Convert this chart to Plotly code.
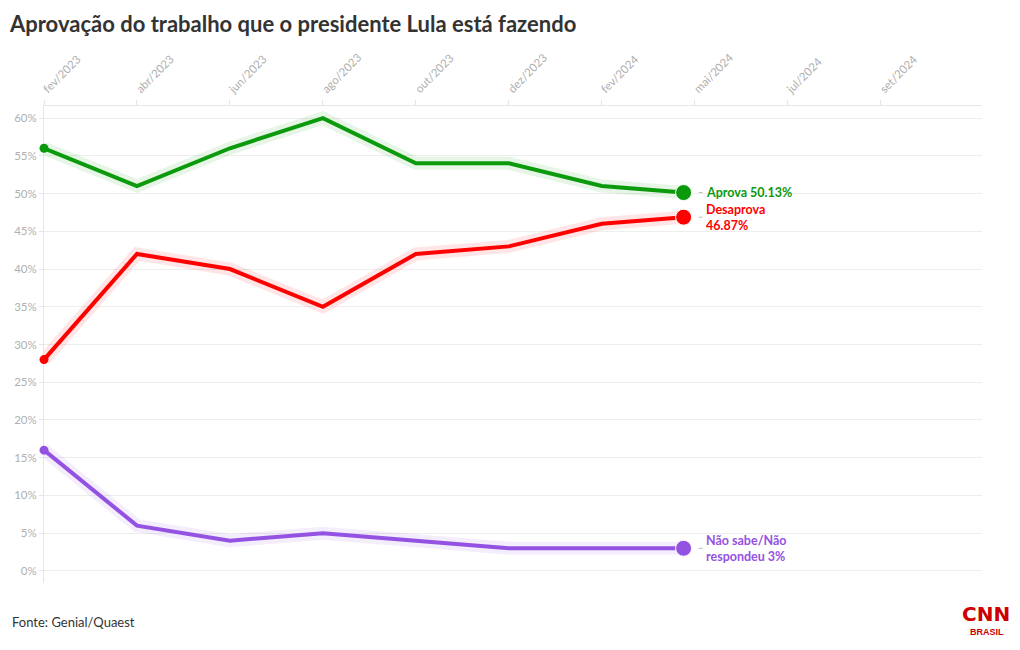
import plotly.graph_objects as go

# ---- data ----
tick_labels = ["fev/2023", "abr/2023", "jun/2023", "ago/2023", "out/2023",
               "dez/2023", "fev/2024", "mai/2024", "jul/2024", "set/2024"]
tick_pos = [0, 1, 2, 3, 4, 5, 6, 7, 8, 9]
# survey position on the (evenly spaced) time axis
survey_x = [0, 1, 2, 3, 4, 5, 6, 6.88]
aprova = [56, 51, 56, 60, 54, 54, 51, 50.13]
desaprova = [28, 42, 40, 35, 42, 43, 46, 46.87]
nao_sabe = [16, 6, 4, 5, 4, 3, 3, 3]
series_names = ["Aprova", "Desaprova", "Não sabe/Não respondeu"]
end_labels = ["Aprova 50.13%", "Desaprova<br>46.87%", "Não sabe/Não<br>respondeu 3%"]
y_ticks = [0, 5, 10, 15, 20, 25, 30, 35, 40, 45, 50, 55, 60]

colors = ["#0b9a0b", "#ff0000", "#9452e3"]
glows = ["rgba(11,154,11,0.10)", "rgba(255,0,0,0.10)", "rgba(148,82,227,0.10)"]
FONT = "Lato"

# page has an 8px body margin; figure is 1012x642
W, H = 1012, 642
L, T, R, B = 36, 98, 38, 67
PW, PH = W - L - R, H - T - B


def px(xpage):
    return (xpage - 8 - L) / PW


def py(ypage):
    return (H - B - (ypage - 8)) / PH


fig = go.Figure()
all_series = [aprova, desaprova, nao_sabe]
for vals, col, glow, name in zip(all_series, colors, glows, series_names):
    fig.add_trace(go.Scatter(x=survey_x, y=vals, mode="lines",
                             line=dict(color=glow, width=13), hoverinfo="skip",
                             showlegend=False, cliponaxis=False))
for vals, col, name in zip(all_series, colors, series_names):
    fig.add_trace(go.Scatter(x=survey_x, y=vals, mode="lines", name=name,
                             line=dict(color=col, width=4), showlegend=False,
                             cliponaxis=False))
    fig.add_trace(go.Scatter(x=[survey_x[0]], y=[vals[0]], mode="markers",
                             marker=dict(color=col, size=9), showlegend=False,
                             hoverinfo="skip", cliponaxis=False))
    fig.add_trace(go.Scatter(x=[survey_x[-1]], y=[vals[-1]], mode="markers",
                             marker=dict(color=col, size=16,
                                         line=dict(color="white", width=1)),
                             showlegend=False, hoverinfo="skip"))

for vals, col, lab in zip(all_series, colors, end_labels):
    fig.add_annotation(x=survey_x[-1], y=vals[-1], text="<b>" + lab + "</b>",
                       showarrow=False, xanchor="left", yanchor="middle",
                       xshift=20, align="left",
                       font=dict(family=FONT, size=12.5, color=col))
    fig.add_shape(type="line", xref="x", yref="y", xsizemode="pixel",
                  xanchor=survey_x[-1], x0=15, x1=19, y0=vals[-1], y1=vals[-1],
                  line=dict(color="#bbbbbb", width=1))

fig.update_layout(
    width=W, height=H,
    margin=dict(l=L, r=R, t=T, b=B, autoexpand=False),
    paper_bgcolor="white", plot_bgcolor="white",
    font=dict(family=FONT, color="#333"),
    title=dict(text="<b>Aprovação do trabalho que o presidente Lula está fazendo</b>",
               x=2 / W, xanchor="left", y=1 - 16 / H, yanchor="middle",
               font=dict(family=FONT, size=22, color="#333")),
    xaxis=dict(range=[0, 10.09], side="top", tickvals=tick_pos, ticktext=tick_labels,
               tickangle=-45, tickfont=dict(family=FONT, size=11.5, color="#b0b0b0"),
               showgrid=False, zeroline=False, showline=True, linecolor="#e6e6e6",
               ticks="outside", ticklen=5, tickcolor="#e6e6e6", fixedrange=True,
               automargin=False, layer="below traces"),
    yaxis=dict(range=[-1.6, 61.6], tickvals=y_ticks,
               ticktext=[f"{v}%" for v in y_ticks],
               tickfont=dict(family=FONT, size=11.5, color="#b0b0b0"),
               showgrid=True, gridcolor="#eeeeee", gridwidth=1, zeroline=False,
               showline=True, linecolor="#e6e6e6", ticks="outside", ticklen=4,
               tickcolor="#e6e6e6", fixedrange=True, automargin=False,
               layer="below traces"),
)

fig.add_annotation(xref="paper", yref="paper", x=px(10), y=py(622), xanchor="left",
                   yanchor="middle", text="Fonte: Genial/Quaest", showarrow=False,
                   font=dict(family=FONT, size=13, color="#333"))
fig.add_annotation(xref="paper", yref="paper", x=px(986), y=py(614),
                   xanchor="center", yanchor="middle", text="<b>CNN</b>",
                   showarrow=False,
                   font=dict(family="DejaVu Sans", size=20, color="#cc0000"))
fig.add_annotation(xref="paper", yref="paper", x=px(987), y=py(632),
                   xanchor="center", yanchor="middle", text="<b>BRASIL</b>",
                   showarrow=False,
                   font=dict(family="Liberation Sans", size=9, color="#cc0000"))

fig.write_html("out.html")
